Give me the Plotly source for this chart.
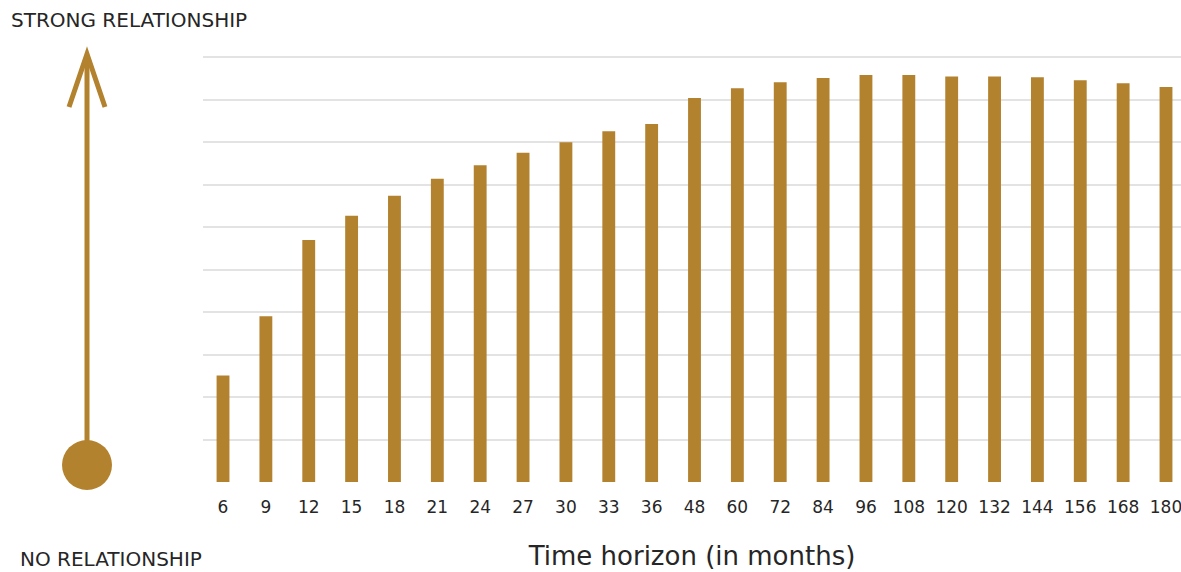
import plotly.graph_objects as go

horizons = ["6", "9", "12", "15", "18", "21", "24", "27", "30", "33", "36", "48",
            "60", "72", "84", "96", "108", "120", "132", "144", "156", "168", "180"]
strength = [0.251, 0.390, 0.570, 0.627, 0.674, 0.714, 0.746, 0.775, 0.800, 0.826,
            0.843, 0.904, 0.927, 0.941, 0.951, 0.958, 0.958, 0.955, 0.955, 0.953,
            0.946, 0.939, 0.930]

GOLD = "#B3822F"
TXT = "#262626"
FONT = "DejaVu Sans"

W, H = 1181, 572
L, R, T, B = 203, 0, 56, 90
pw, ph = W - L - R, H - T - B


def px(x):
    return (x - L) / pw


def py(y):
    return (H - B - y) / ph


fig = go.Figure(go.Bar(x=list(range(len(horizons))), y=strength,
                       marker=dict(color=GOLD, line=dict(width=0)), width=0.3))

fig.update_layout(
    width=W, height=H,
    margin=dict(l=L, r=R, t=T, b=B, pad=0),
    paper_bgcolor="white", plot_bgcolor="white",
    showlegend=False,
    font=dict(family=FONT, color=TXT),
    xaxis=dict(
        tickmode="array", tickvals=list(range(len(horizons))), ticktext=horizons,
        range=[-0.467, 22.35], showgrid=False, zeroline=False, showline=False,
        tickfont=dict(size=17, color=TXT), ticks="outside", ticklen=10,
        tickcolor="rgba(0,0,0,0)", ticklabeloverflow="allow",
        title=dict(text="Time horizon (in months)", font=dict(size=26, color=TXT),
                   standoff=30),
    ),
    yaxis=dict(
        range=[0, 1.003], dtick=0.1, showgrid=True, gridcolor="#e3e3e3", gridwidth=2,
        showticklabels=False, zeroline=False, showline=False, fixedrange=True,
    ),
)

shapes = []
# vertical arrow shaft
shapes.append(dict(type="line", xref="paper", yref="paper",
                   x0=px(87), x1=px(87), y0=py(462), y1=py(56),
                   line=dict(color=GOLD, width=5)))
# arrow head chevron
shapes.append(dict(type="path", xref="paper", yref="paper",
                   path=f"M {px(69)},{py(107)} L {px(87)},{py(54)} L {px(105)},{py(107)}",
                   line=dict(color=GOLD, width=5)))
# circle
shapes.append(dict(type="circle", xref="paper", yref="paper",
                   x0=px(62), x1=px(112), y0=py(490), y1=py(440),
                   fillcolor=GOLD, line=dict(color=GOLD, width=0)))
fig.update_layout(shapes=shapes)

fig.add_annotation(text="STRONG RELATIONSHIP", xref="paper", yref="paper",
                   x=px(9), y=py(20), xanchor="left", yanchor="middle",
                   showarrow=False, font=dict(size=20, color=TXT))
fig.add_annotation(text="NO RELATIONSHIP", xref="paper", yref="paper",
                   x=px(19), y=py(572), xanchor="left", yanchor="bottom",
                   borderpad=0, showarrow=False, font=dict(size=20, color=TXT))

fig.write_html("out.html", config={"displayModeBar": False},
               post_script="document.body.style.margin='0';")
